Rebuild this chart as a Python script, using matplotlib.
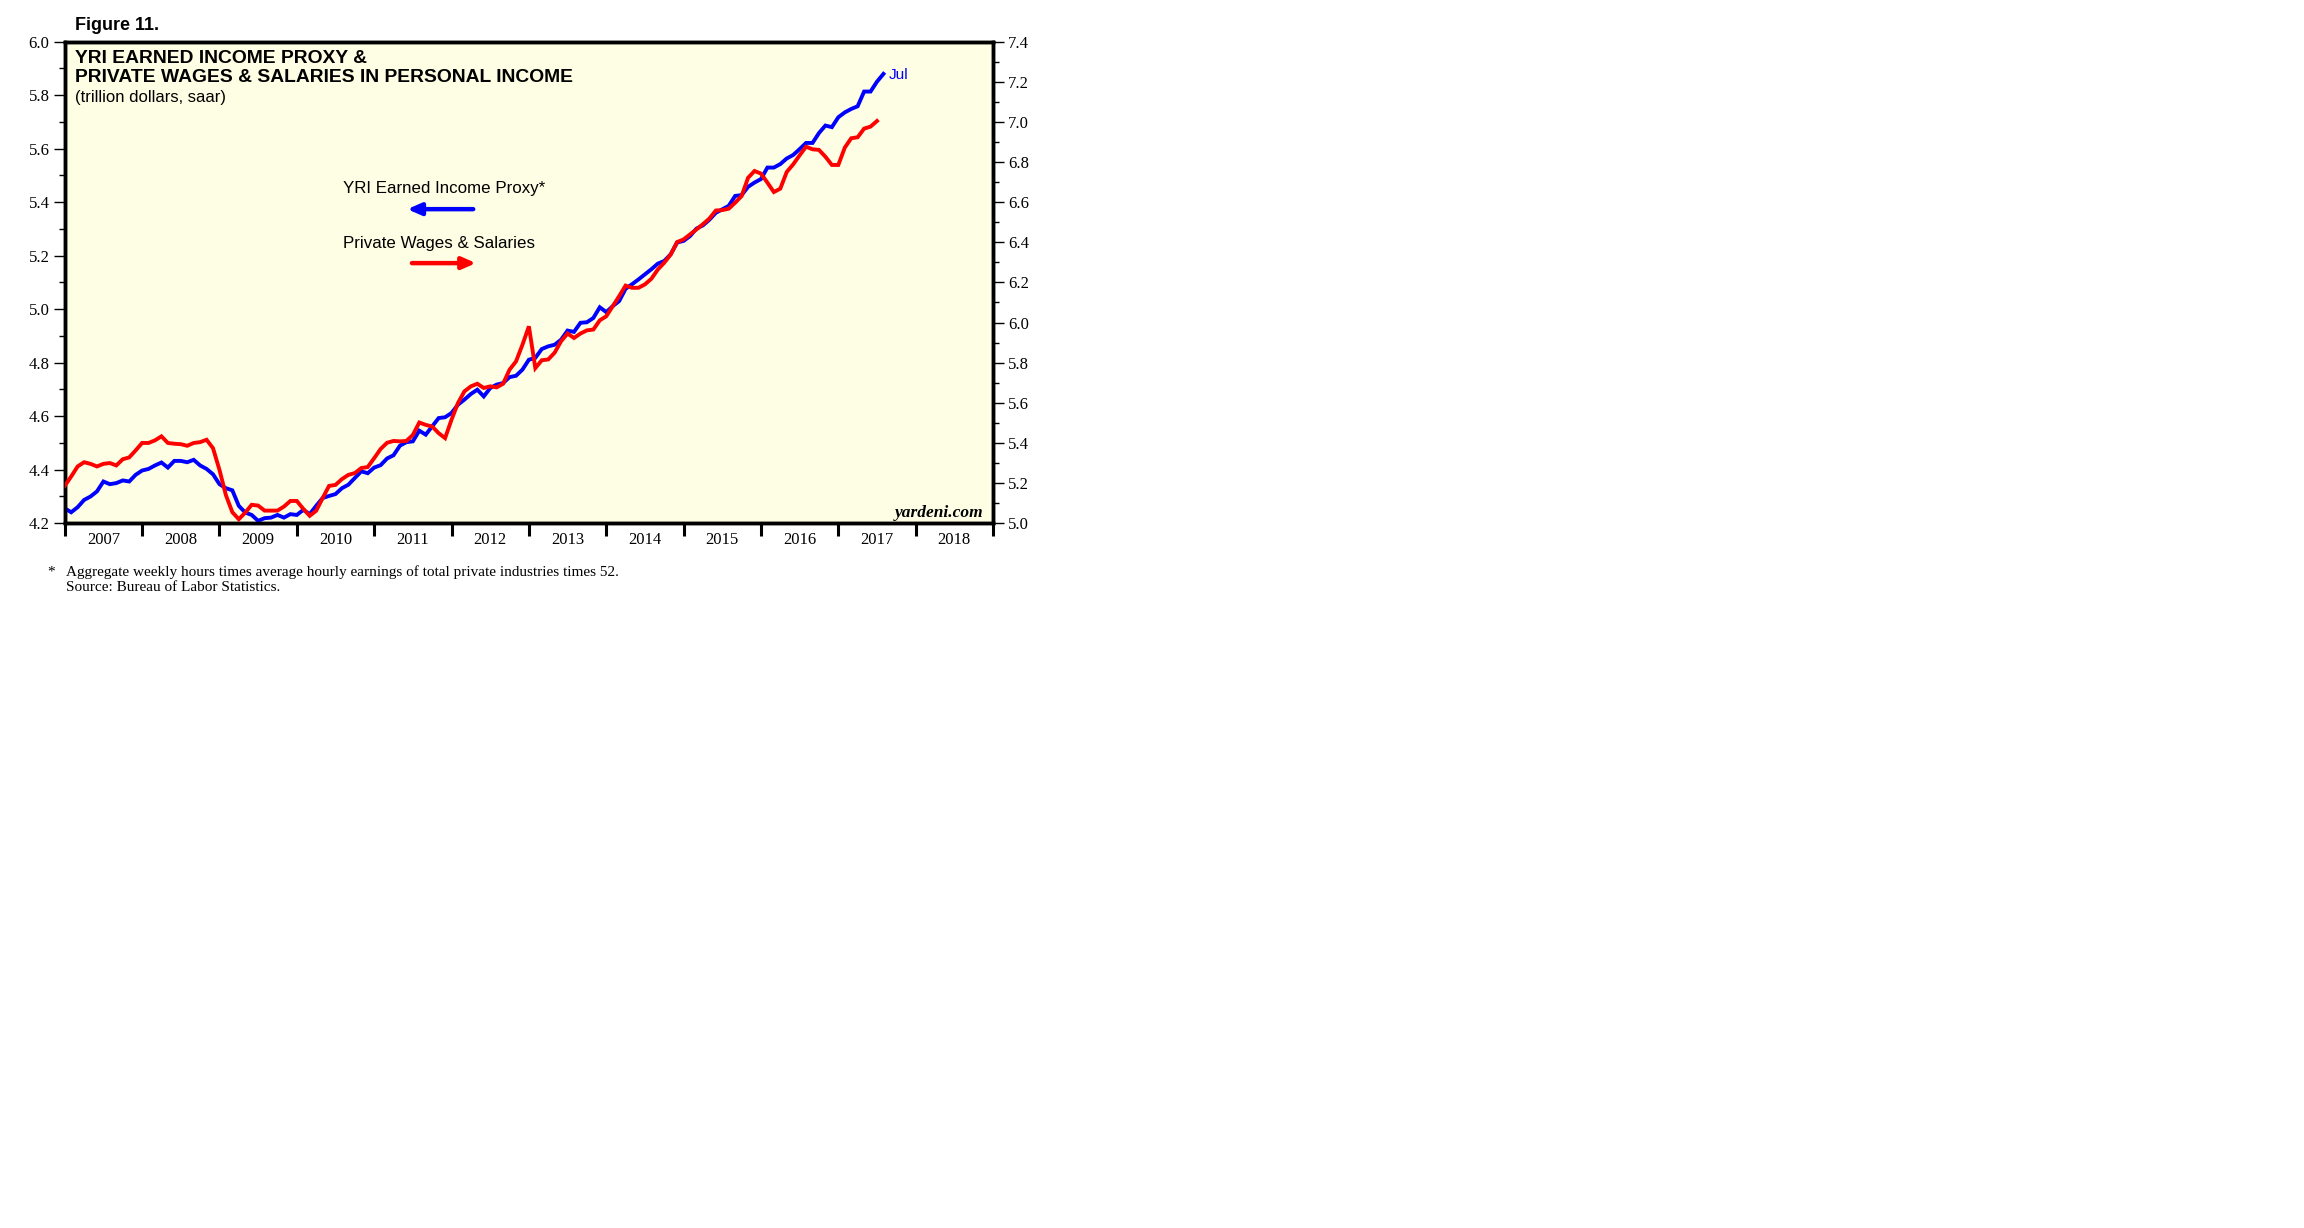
import numpy as np
import matplotlib
matplotlib.use('Agg')
import matplotlib.pyplot as plt
from matplotlib.ticker import MultipleLocator, FormatStrFormatter

# monthly values, Dec 2006 .. Jul 2017 (trillion dollars, saar)
proxy = [4.256, 4.241, 4.260, 4.287, 4.300, 4.319, 4.356, 4.346, 4.350, 4.360, 4.356, 4.381,
         4.397, 4.403, 4.416, 4.427, 4.408, 4.433, 4.433, 4.428, 4.437, 4.416, 4.403, 4.383,
         4.346, 4.331, 4.323, 4.265, 4.240, 4.231, 4.209, 4.219, 4.221, 4.231, 4.221, 4.234,
         4.231, 4.250, 4.234, 4.265, 4.294, 4.302, 4.309, 4.331, 4.344, 4.369, 4.394, 4.387,
         4.408, 4.417, 4.442, 4.454, 4.490, 4.503, 4.506, 4.546, 4.531, 4.562, 4.593, 4.596,
         4.612, 4.643, 4.662, 4.683, 4.699, 4.674, 4.705, 4.718, 4.724, 4.746, 4.751, 4.774,
         4.811, 4.818, 4.851, 4.861, 4.867, 4.886, 4.920, 4.915, 4.949, 4.951, 4.967, 5.007,
         4.989, 5.011, 5.030, 5.076, 5.093, 5.111, 5.130, 5.149, 5.170, 5.180, 5.205, 5.249,
         5.255, 5.273, 5.301, 5.313, 5.334, 5.360, 5.373, 5.386, 5.423, 5.426, 5.457, 5.473,
         5.486, 5.529, 5.529, 5.542, 5.563, 5.576, 5.598, 5.621, 5.621, 5.658, 5.686, 5.680,
         5.717, 5.735, 5.748, 5.758, 5.813, 5.813, 5.850, 5.879]

# Dec 2006 .. Jun 2017 (right axis)
wages = [5.186, 5.233, 5.283, 5.304, 5.296, 5.283, 5.296, 5.300, 5.288, 5.319, 5.328, 5.363,
         5.400, 5.400, 5.413, 5.433, 5.400, 5.396, 5.394, 5.386, 5.400, 5.404, 5.416, 5.374,
         5.266, 5.140, 5.055, 5.020, 5.053, 5.092, 5.088, 5.063, 5.063, 5.063, 5.083, 5.111,
         5.111, 5.072, 5.037, 5.062, 5.125, 5.186, 5.191, 5.220, 5.241, 5.250, 5.275, 5.280,
         5.324, 5.370, 5.401, 5.410, 5.408, 5.410, 5.440, 5.502, 5.490, 5.482, 5.449, 5.424,
         5.516, 5.599, 5.657, 5.682, 5.695, 5.674, 5.682, 5.677, 5.695, 5.765, 5.806, 5.889,
         5.981, 5.773, 5.812, 5.816, 5.850, 5.907, 5.945, 5.923, 5.945, 5.961, 5.965, 6.011,
         6.031, 6.081, 6.131, 6.184, 6.173, 6.173, 6.190, 6.218, 6.264, 6.298, 6.339, 6.401,
         6.414, 6.439, 6.464, 6.490, 6.518, 6.558, 6.560, 6.567, 6.597, 6.630, 6.721, 6.755,
         6.742, 6.697, 6.650, 6.667, 6.750, 6.788, 6.833, 6.876, 6.863, 6.860, 6.826, 6.785,
         6.785, 6.871, 6.918, 6.923, 6.966, 6.976, 7.004]

years = list(range(2007, 2019))
last_label = 'Jul'

# month positions as decimal years, first point (Dec 2006) sits on the left edge
t_proxy = 2007 + np.arange(len(proxy)) / 12
t_wages = 2007 + np.arange(len(wages)) / 12

serif = 'Liberation Serif'
sans = 'Liberation Sans'
plt.rcParams['font.family'] = sans

fig = plt.figure(figsize=(23.04, 12.28), dpi=100)
ax = fig.add_axes([0.0281, 0.5739, 0.4029, 0.3923])
ax.set_facecolor('#FEFEE4')

ax.plot(t_proxy, proxy, color='#0000FF', lw=2.8, solid_joinstyle='miter', zorder=3)
ax.set_xlim(2007, 2019)
ax.set_ylim(4.2, 6.0)

ax2 = ax.twinx()
ax2.plot(t_wages, wages, color='#FF0000', lw=2.8, solid_joinstyle='miter', zorder=3)
ax2.set_ylim(5.0, 7.4)

# x axis: year boundaries as ticks, year names centred in between
ax.set_xticks(years + [2019])
ax.set_xticks([y + 0.5 for y in years], minor=True)
ax.set_xticklabels([str(y) for y in years], minor=True, family=serif, fontsize=12)
ax.tick_params(axis='x', which='major', direction='out', length=9, width=2.2, labelbottom=False)
ax.tick_params(axis='x', which='minor', length=0, pad=6)

for a in (ax, ax2):
    a.yaxis.set_major_locator(MultipleLocator(0.2))
    a.yaxis.set_minor_locator(MultipleLocator(0.1))
    a.yaxis.set_major_formatter(FormatStrFormatter('%.1f'))
    a.tick_params(axis='y', which='major', direction='out', length=8, width=1.0, pad=3, labelsize=12)
    a.tick_params(axis='y', which='minor', direction='out', length=4, width=1.0)
    for lab in a.get_yticklabels():
        lab.set_family(serif)
    for sp in a.spines.values():
        sp.set_linewidth(2.5)

fig.text(0.0324, 0.9756, 'Figure 11.', fontsize=13, fontweight='bold', ha='left', va='baseline')

ax.text(0.0107, 0.956, 'YRI EARNED INCOME PROXY &', transform=ax.transAxes,
        fontsize=13.9, fontweight='bold', ha='left', va='baseline')
ax.text(0.0107, 0.916, 'PRIVATE WAGES & SALARIES IN PERSONAL INCOME', transform=ax.transAxes,
        fontsize=13.9, fontweight='bold', ha='left', va='baseline')
ax.text(0.0107, 0.875, '(trillion dollars, saar)', transform=ax.transAxes,
        fontsize=12, ha='left', va='baseline')

# legend-style labels with arrows pointing to each axis
ax.text(0.300, 0.685, 'YRI Earned Income Proxy*', transform=ax.transAxes,
        fontsize=12.2, ha='left', va='baseline')
ax.annotate('', xy=(0.366, 0.652), xytext=(0.443, 0.652), xycoords='axes fraction',
            arrowprops=dict(arrowstyle='-|>,head_length=0.8,head_width=0.35', color='#0000FF', lw=3.2))
ax.text(0.300, 0.571, 'Private Wages & Salaries', transform=ax.transAxes,
        fontsize=12.2, ha='left', va='baseline')
ax.annotate('', xy=(0.446, 0.540), xytext=(0.371, 0.540), xycoords='axes fraction',
            arrowprops=dict(arrowstyle='-|>,head_length=0.8,head_width=0.35', color='#FF0000', lw=3.2))

ax.annotate(last_label, xy=(t_proxy[-1], proxy[-1]), xytext=(4, -1), textcoords='offset points',
            color='#0000FF', fontsize=11, ha='left', va='center')

ax.text(0.990, 0.014, 'yardeni.com', transform=ax.transAxes, family=serif,
        fontsize=12.5, fontweight='bold', style='italic', ha='right', va='baseline')

fig.text(0.0205, 1 - 576 / 1228, '*', family=serif, fontsize=11, ha='left', va='baseline')
fig.text(0.0285, 1 - 576 / 1228,
         'Aggregate weekly hours times average hourly earnings of total private industries times 52.',
         family=serif, fontsize=11, ha='left', va='baseline')
fig.text(0.0285, 1 - 591 / 1228, 'Source: Bureau of Labor Statistics.',
         family=serif, fontsize=11, ha='left', va='baseline')

fig.savefig('out.png', dpi=100, facecolor='white')
